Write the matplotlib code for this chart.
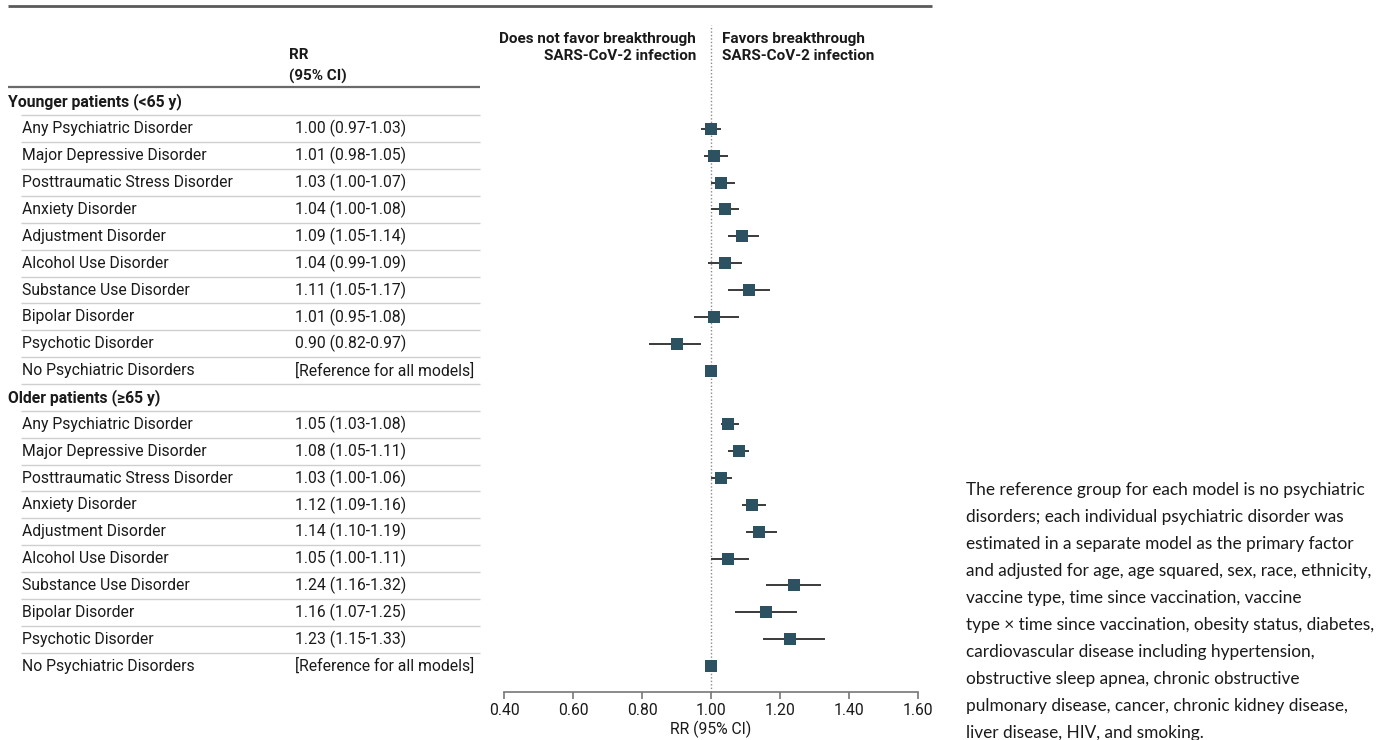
import matplotlib
matplotlib.use("Agg")
import matplotlib.pyplot as plt
from matplotlib import transforms
from matplotlib.lines import Line2D

plt.rcParams['font.family'] = ['Roboto', 'DejaVu Sans']

groups = ["Younger patients (<65 y)", "Older patients (\u226565 y)"]
disorders = ["Any Psychiatric Disorder", "Major Depressive Disorder",
             "Posttraumatic Stress Disorder", "Anxiety Disorder",
             "Adjustment Disorder", "Alcohol Use Disorder",
             "Substance Use Disorder", "Bipolar Disorder",
             "Psychotic Disorder", "No Psychiatric Disorders"]
young_rr = [1.00, 1.01, 1.03, 1.04, 1.09, 1.04, 1.11, 1.01, 0.90, 1.00]
young_lo = [0.97, 0.98, 1.00, 1.00, 1.05, 0.99, 1.05, 0.95, 0.82, None]
young_hi = [1.03, 1.05, 1.07, 1.08, 1.14, 1.09, 1.17, 1.08, 0.97, None]
old_rr = [1.05, 1.08, 1.03, 1.12, 1.14, 1.05, 1.24, 1.16, 1.23, 1.00]
old_lo = [1.03, 1.05, 1.00, 1.09, 1.10, 1.00, 1.16, 1.07, 1.15, None]
old_hi = [1.08, 1.11, 1.06, 1.16, 1.19, 1.11, 1.32, 1.25, 1.33, None]
xticks = [0.40, 0.60, 0.80, 1.00, 1.20, 1.40, 1.60]
ref_label = "[Reference for all models]"
note = ("The reference group for each model is no psychiatric\n"
        "disorders; each individual psychiatric disorder was\n"
        "estimated in a separate model as the primary factor\n"
        "and adjusted for age, age squared, sex, race, ethnicity,\n"
        "vaccine type, time since vaccination, vaccine\n"
        "type \u00d7 time since vaccination, obesity status, diabetes,\n"
        "cardiovascular disease including hypertension,\n"
        "obstructive sleep apnea, chronic obstructive\n"
        "pulmonary disease, cancer, chronic kidney disease,\n"
        "liver disease, HIV, and smoking.")

W, H = 1393, 740
fig = plt.figure(figsize=(W / 100, H / 100), dpi=100)
fx = lambda px: px / W
fy = lambda py: 1 - py / H

ROW0, STEP = 102.0, 26.86
ax_top, ax_bot = 25.0, 692.0
ax = fig.add_axes([fx(504), fy(ax_bot), fx(918) - fx(504), (ax_bot - ax_top) / H])
ax.set_xlim(0.4, 1.6)
ax.set_ylim((ax_bot - ROW0) / STEP, (ax_top - ROW0) / STEP)

trans = transforms.blended_transform_factory(fig.transFigure, ax.transData)
ypx = lambda py: (py - ROW0) / STEP

TXT = '#1a1a1a'
FS = 11.3
FSB = 11.0
MCOL = '#2c5262'

def hline(x0, x1, y, color, lw):
    ax.add_line(Line2D([fx(x0), fx(x1)], [y, y], transform=trans, color=color,
                       lw=lw, clip_on=False, solid_capstyle='butt'))

# top rule and header rule
hline(8, 932, ypx(6), '#5a5a5a', 2.0)
hline(8, 480, ypx(87), '#6a6a6a', 1.6)

ax.text(fx(289), ypx(55), "RR", transform=trans, fontsize=FSB, fontweight='bold',
        color=TXT, va='center', ha='left')
ax.text(fx(289), ypx(76), "(95% CI)", transform=trans, fontsize=FSB, fontweight='bold',
        color=TXT, va='center', ha='left')

ax.text(fx(696), ypx(39), "Does not favor breakthrough", transform=trans, fontsize=FSB,
        fontweight='bold', color=TXT, va='center', ha='right')
ax.text(fx(696), ypx(56), "SARS-CoV-2 infection", transform=trans, fontsize=FSB,
        fontweight='bold', color=TXT, va='center', ha='right')
ax.text(fx(722), ypx(39), "Favors breakthrough", transform=trans, fontsize=FSB,
        fontweight='bold', color=TXT, va='center', ha='left')
ax.text(fx(722), ypx(56), "SARS-CoV-2 infection", transform=trans, fontsize=FSB,
        fontweight='bold', color=TXT, va='center', ha='left')

series = [(young_rr, young_lo, young_hi), (old_rr, old_lo, old_hi)]
i = 0
total_rows = len(groups) * (len(disorders) + 1)
for g, (rr, lo, hi) in zip(groups, series):
    ax.text(fx(8), i, g, transform=trans, fontsize=11.3, fontweight='bold',
            color=TXT, va='center', ha='left')
    hline(21, 480, i + 0.5, '#cfcfcf', 1.0)
    i += 1
    for name, r, l, h in zip(disorders, rr, lo, hi):
        ax.text(fx(22), i, name, transform=trans, fontsize=FS, color=TXT,
                va='center', ha='left')
        if l is None:
            lab = ref_label
        else:
            lab = f"{r:.2f} ({l:.2f}-{h:.2f})"
            ax.plot([l, h], [i, i], color='#3a3a3a', lw=1.4, zorder=2,
                    solid_capstyle='butt')
        ax.text(fx(295), i, lab, transform=trans, fontsize=FS, color=TXT,
                va='center', ha='left')
        ax.plot([r], [i], marker='s', ms=8.4, color=MCOL, mew=0, zorder=3, ls='none')
        if i < total_rows - 1:
            hline(21, 480, i + 0.5, '#cfcfcf', 1.0)
        i += 1

ax.axvline(1.0, color='#8a8a8a', lw=1.0, ls=(0, (1, 1.5)), zorder=1)

for s in ['top', 'right', 'left']:
    ax.spines[s].set_visible(False)
ax.spines['bottom'].set_color('#777777')
ax.spines['bottom'].set_linewidth(1.2)
ax.set_yticks([])
ax.set_xticks(xticks)
ax.set_xticklabels([f"{t:.2f}" for t in xticks], fontsize=FS, color=TXT)
ax.tick_params(axis='x', direction='out', length=5, width=1.2, color='#777777', pad=3)
ax.set_xlabel("RR (95% CI)", fontsize=FS, color=TXT, labelpad=2)
ax.patch.set_visible(False)

fig.text(fx(966), fy(482), note, fontsize=12.4, color=TXT, va='top', ha='left',
         family=['Lato', 'DejaVu Sans'], linespacing=1.85)

fig.savefig("out.png", dpi=100)
